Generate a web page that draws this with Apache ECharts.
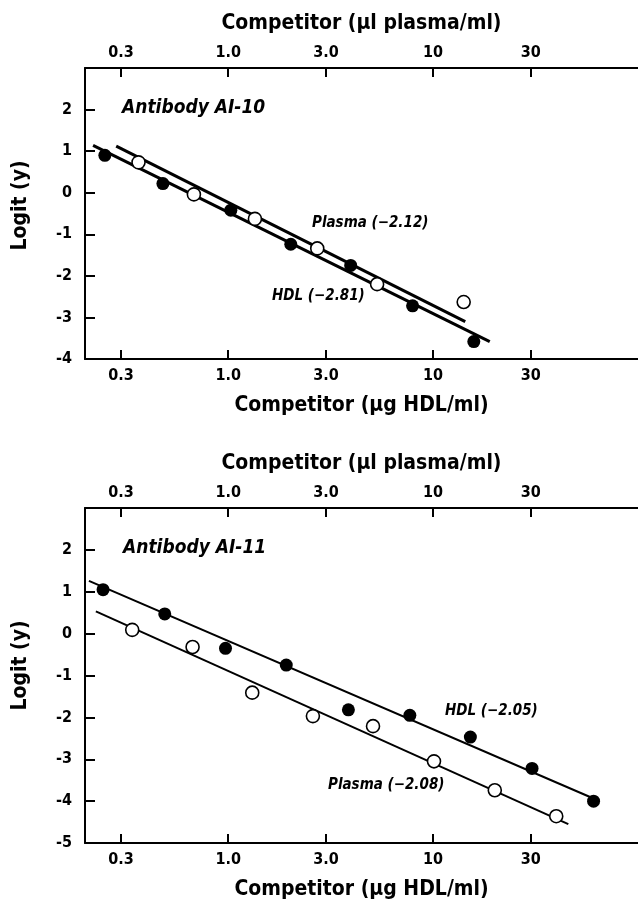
<!DOCTYPE html>
<html>
<head>
<meta charset="utf-8">
<script src="https://cdn.jsdelivr.net/npm/echarts@6/dist/echarts.min.js"></script>
<style>
  html, body { margin: 0; padding: 0; background: #fff; }
  #chart { width: 638px; height: 902px; }
</style>
</head>
<body>
<div id="chart"></div>
<script>
// tick marks shared by all four x axes (same positions on top and bottom)
const xTicks = [0.3, 1, 3, 10, 30];
const xTickLabels = ['0.3', '1.0', '3.0', '10', '30'];

// Antibody AI-10
const a10HdlConc = [0.25, 0.48, 1.03, 2.02, 3.96, 7.94, 15.8];
const a10HdlLogit = [0.90, 0.22, -0.42, -1.24, -1.75, -2.72, -3.58];
const a10PlasmaConc = [0.365, 0.68, 1.35, 2.72, 5.33, 14.1];
const a10PlasmaLogit = [0.73, -0.04, -0.63, -1.34, -2.20, -2.63];
const a10HdlFitConc = [0.219, 18.9];
const a10HdlFitLogit = [1.14, -3.58];
const a10PlasmaFitConc = [0.284, 14.35];
const a10PlasmaFitLogit = [1.12, -3.10];

// Antibody AI-11
const a11HdlConc = [0.245, 0.49, 0.97, 1.92, 3.86, 7.7, 15.2, 30.4, 60.7];
const a11HdlLogit = [1.05, 0.47, -0.35, -0.75, -1.82, -1.95, -2.47, -3.22, -4.0];
const a11PlasmaConc = [0.34, 0.67, 1.31, 2.59, 5.09, 10.1, 20.0, 39.9];
const a11PlasmaLogit = [0.09, -0.32, -1.41, -1.97, -2.21, -3.05, -3.74, -4.36];
const a11HdlFitConc = [0.209, 63.5];
const a11HdlFitLogit = [1.26, -3.98];
const a11PlasmaFitConc = [0.226, 45.7];
const a11PlasmaFitLogit = [0.53, -4.55];

const FONT = "'Liberation Sans Narrow', 'DejaVu Sans Condensed', sans-serif";

// x is plotted as log10(concentration)
const pts = (conc, logit) => conc.map((c, i) => [Math.log10(c), logit[i]]);
const tickPos = xTicks.map(v => Math.log10(v));
const tickLabel = val => {
    let best = 0;
    tickPos.forEach((p, i) => { if (Math.abs(p - val) < Math.abs(tickPos[best] - val)) best = i; });
    return xTickLabels[best];
};

const chart = echarts.init(document.getElementById('chart'));

const xAxisFor = (gridIndex, position, name) => ({
    type: 'value',
    gridIndex: gridIndex,
    position: position,
    min: Math.log10(0.2),
    max: 2,
    name: name,
    nameLocation: 'middle',
    nameGap: position === 'top' ? 34 : 36,
    nameTextStyle: { color: '#000', fontSize: 21, fontWeight: 'bold', fontFamily: FONT },
    axisLine: { show: true, onZero: false, lineStyle: { color: '#000', width: 2 } },
    axisTick: { show: true, inside: true, length: 9, customValues: tickPos, lineStyle: { color: '#000', width: 2 } },
    axisLabel: {
        customValues: tickPos,
        formatter: tickLabel,
        margin: position === 'top' ? 7 : 9,
        color: '#000', fontSize: 16, fontWeight: 'bold', fontFamily: FONT
    },
    splitLine: { show: false }
});

const yAxisFor = (gridIndex, min, pad) => ({
    type: 'value',
    gridIndex: gridIndex,
    min: min,
    max: 3,
    interval: 1,
    name: 'Logit (y)',
    nameLocation: 'middle',
    nameGap: 54,
    nameTextStyle: { color: '#000', fontSize: 21, fontWeight: 'bold', fontFamily: FONT, padding: [0, 0, 0, pad] },
    axisLine: { show: true, onZero: false, lineStyle: { color: '#000', width: 2 } },
    axisTick: { show: true, inside: true, length: 10, lineStyle: { color: '#000', width: 2 } },
    axisLabel: {
        margin: 13,
        formatter: v => (v === 3 ? '' : String(v)),
        color: '#000', fontSize: 16, fontWeight: 'bold', fontFamily: FONT
    },
    splitLine: { show: false }
});

const fitLine = (axisIdx, conc, logit, width) => ({
    type: 'line',
    xAxisIndex: axisIdx,
    yAxisIndex: axisIdx === 0 ? 0 : 1,
    data: pts(conc, logit),
    symbol: 'none',
    lineStyle: { color: '#000', width: width },
    z: 2
});

const dots = (axisIdx, conc, logit, filled) => ({
    type: 'scatter',
    xAxisIndex: axisIdx,
    yAxisIndex: axisIdx === 0 ? 0 : 1,
    data: pts(conc, logit),
    symbol: 'circle',
    symbolSize: 13,
    itemStyle: filled
        ? { color: '#000', opacity: 1 }
        : { color: '#fff', borderColor: '#000', borderWidth: 1.6, opacity: 1 },
    z: 3
});

const note = (text, x, y, size) => ({
    type: 'text',
    x: x,
    y: y,
    style: {
        text: text,
        fill: '#000',
        font: 'italic bold ' + size + 'px ' + FONT,
        align: 'left',
        verticalAlign: 'middle'
    }
});

const option = {
    backgroundColor: '#fff',
    animation: false,
    grid: [
        { left: 85, top: 68, width: 560, height: 291 },
        { left: 85, top: 508, width: 560, height: 335 }
    ],
    xAxis: [
        xAxisFor(0, 'bottom', 'Competitor (µg HDL/ml)'),
        xAxisFor(1, 'bottom', 'Competitor (µg HDL/ml)'),
        xAxisFor(0, 'top', 'Competitor (µl plasma/ml)'),
        xAxisFor(1, 'top', 'Competitor (µl plasma/ml)')
    ],
    yAxis: [
        yAxisFor(0, -4, 16),
        yAxisFor(1, -5, 20)
    ],
    series: [
        fitLine(0, a10HdlFitConc, a10HdlFitLogit, 3),
        fitLine(0, a10PlasmaFitConc, a10PlasmaFitLogit, 3),
        dots(0, a10HdlConc, a10HdlLogit, true),
        dots(0, a10PlasmaConc, a10PlasmaLogit, false),
        fitLine(1, a11HdlFitConc, a11HdlFitLogit, 2),
        fitLine(1, a11PlasmaFitConc, a11PlasmaFitLogit, 2),
        dots(1, a11HdlConc, a11HdlLogit, true),
        dots(1, a11PlasmaConc, a11PlasmaLogit, false)
    ],
    graphic: [
        note('Antibody AI-10', 122, 108, 19),
        note('Plasma (\u22122.12)', 312, 223, 15),
        note('HDL (\u22122.81)', 272, 296, 15),
        note('Antibody AI-11', 123, 548, 19),
        note('HDL (\u22122.05)', 445, 711, 15),
        note('Plasma (\u22122.08)', 328, 785, 15)
    ]
};

chart.setOption(option);
</script>
</body>
</html>
